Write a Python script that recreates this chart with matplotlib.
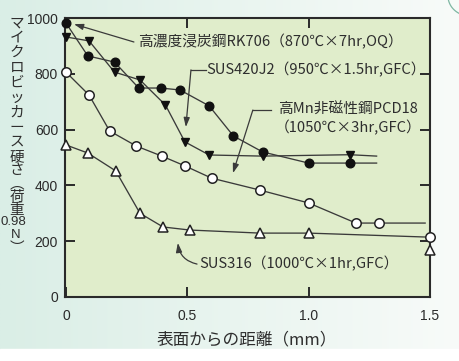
import numpy as np
import matplotlib
matplotlib.use("Agg")
import matplotlib.pyplot as plt

plt.rcParams['font.family'] = ['Noto Sans CJK JP', 'DejaVu Sans']

# ---- data ----
x_rk706 = [0.0, 0.09, 0.20, 0.30, 0.39, 0.47, 0.59, 0.69, 0.81, 1.00, 1.17, 1.28]
y_rk706 = [982, 864, 842, 749, 749, 742, 685, 577, 520, 480, 480, 480]

x_sus420 = [0.0, 0.095, 0.20, 0.305, 0.41, 0.49, 0.59, 0.81, 1.17, 1.28]
y_sus420 = [932, 918, 806, 778, 688, 556, 509, 505, 510, 505]

x_pcd18 = [0.0, 0.095, 0.18, 0.29, 0.395, 0.49, 0.60, 0.80, 1.00, 1.195, 1.29, 1.48]
y_pcd18 = [806, 724, 595, 541, 505, 470, 426, 383, 337, 265, 265, 265]
x_pcd18_end = [1.5]
y_pcd18_end = [215]

x_sus316 = [0.0, 0.09, 0.205, 0.305, 0.40, 0.51, 0.80, 1.00, 1.48]
y_sus316 = [545, 516, 452, 300, 251, 240, 229, 229, 215]
x_sus316_end = [1.5]
y_sus316_end = [168]

x_ticks = [0, 0.5, 1.0, 1.5]
x_ticklabels = ['0', '0.5', '1.0', '1.5']
y_ticks = [0, 200, 400, 600, 800, 1000]
y_ticklabels = ['0', '200', '400', '600', '800', '1000']

label_rk706 = '高濃度浸炭鋼RK706（870℃×7hr,OQ）'
label_sus420 = 'SUS420J2（950℃×1.5hr,GFC）'
label_pcd18_1 = '高Mn非磁性鋼PCD18'
label_pcd18_2 = '（1050℃×3hr,GFC）'
label_sus316 = 'SUS316（1000℃×1hr,GFC）'
xlabel = '表面からの距離（mm）'
ylabel_chars = ['マ', 'イ', 'ク', 'ロ', 'ビ', 'ッ', 'カ', 'ー', 'ス', '硬', 'さ',
                '︵', '荷', '重', '0.98', 'N', '︶']

# ---- figure ----
W, H = 460, 361
fig = plt.figure(figsize=(W / 100, H / 100), dpi=100)

# background gradient
bg = fig.add_axes([0, 0, 1, 1], zorder=-10)
c0 = np.array([218, 238, 230]) / 255
c1 = np.array([248, 251, 249]) / 255
t = np.linspace(0, 1, 200)[None, :, None]
grad = c0 * (1 - t) + c1 * t
grad = np.repeat(grad, 100, axis=0)
bg.imshow(grad, aspect='auto', extent=[0, 1, 0, 1])
bg.axhspan(0, 12 / H, color='white')
bg.set_xlim(0, 1)
bg.set_ylim(0, 1)
bg.axis('off')
# decorative arc top-right
th = np.linspace(np.pi * 1.05, np.pi * 1.45, 30)
bg.plot(470 / W + 22 / W * np.cos(th), 1 + 20 / H * np.sin(th) + 4 / H,
        color='#7fb7a3', lw=0.9)

ax = fig.add_axes([65 / W, 1 - 297 / H, (430 - 65) / W, (297 - 18) / H])
ax.set_facecolor('#e0edcb')

lc = '#3a3a3a'
lw = 0.95
ax.plot(x_rk706, y_rk706, color=lc, lw=lw, marker='o', ms=6.2, clip_on=False,
        mfc='#111111', mec='#111111', markevery=list(range(len(x_rk706) - 1)), zorder=4)
ax.plot(x_sus420, y_sus420, color=lc, lw=lw, marker='v', ms=6.2, clip_on=False,
        mfc='#111111', mec='#111111', markevery=list(range(len(x_sus420) - 1)), zorder=4)
ax.plot(x_pcd18, y_pcd18, color=lc, lw=lw, marker='o', ms=6.8, clip_on=False,
        mfc='white', mec='#222222', mew=1.1, markevery=list(range(len(x_pcd18) - 1)), zorder=4)
ax.plot(x_pcd18_end, y_pcd18_end, ls='none', marker='o', ms=6.8, clip_on=False,
        mfc='white', mec='#222222', mew=1.1, zorder=5)
ax.plot(x_sus316, y_sus316, color=lc, lw=lw, marker='^', ms=7, clip_on=False,
        mfc='white', mec='#222222', mew=1.1, markevery=list(range(len(x_sus316) - 1)), zorder=4)
ax.plot(x_sus316_end, y_sus316_end, ls='none', marker='^', ms=7, clip_on=False,
        mfc='white', mec='#222222', mew=1.1, zorder=5)

ax.set_xlim(-0.004, 1.5)
ax.set_ylim(0, 1000)

tick_font = dict(family=['Liberation Sans', 'DejaVu Sans'], size=10, color='#2a2a2a')
ax.set_xticks(x_ticks)
ax.set_xticklabels(x_ticklabels, fontdict=tick_font)
ax.set_yticks(y_ticks)
ax.set_yticklabels(y_ticklabels, fontdict=tick_font)
ax.tick_params(axis='both', direction='in', length=7, width=1.4, color='#2a2a2a')
ax.tick_params(axis='x', pad=9, top=True)
ax.tick_params(axis='y', pad=5, right=True)
for s in ax.spines.values():
    s.set_linewidth(1.5)
    s.set_color('#2a2a2a')
    s.set_zorder(3)

tc = '#2e2e2e'
fs = 10.6
arrow = dict(arrowstyle='-|>,head_length=0.55,head_width=0.18', color=lc, lw=0.9,
             shrinkA=0, shrinkB=0)

# RK706
ax.text(0.297, 914, label_rk706, fontsize=fs, color=tc, va='center', ha='left')
ax.annotate('', xy=(0.033, 978), xytext=(0.28, 914), arrowprops=arrow)

# SUS420J2
ax.text(0.577, 814, label_sus420, fontsize=fs, color=tc, va='center', ha='left')
ax.plot([0.577, 0.515], [814, 814], color=lc, lw=0.9)
ax.annotate('', xy=(0.494, 609), xytext=(0.515, 814), arrowprops=arrow)

# PCD18
ax.text(1.162, 670, label_pcd18_1, fontsize=fs, color=tc, va='center', ha='center')
ax.text(1.162, 606, label_pcd18_2, fontsize=fs, color=tc, va='center', ha='center')
ax.plot([0.845, 0.770], [670, 670], color=lc, lw=0.9)
ax.annotate('', xy=(0.688, 444), xytext=(0.770, 670), arrowprops=arrow)

# SUS316
ax.text(0.548, 118, label_sus316, fontsize=fs, color=tc, va='center', ha='left')
arrow_c = dict(arrow, connectionstyle='arc3,rad=-0.35')
ax.annotate('', xy=(0.461, 194), xytext=(0.540, 118), arrowprops=arrow_c)

# x label
fig.text(247 / W, 1 - 340 / H, xlabel, fontsize=12, color=tc, ha='center', va='center')

# vertical y label, upright characters
ypos = [23, 38, 53, 68, 83, 98, 113, 128, 142, 157, 170, 184, 197, 210, 222, 235, 248]
for ch, yp in zip(ylabel_chars, ypos):
    if ch == '0.98':
        fig.text(13 / W, 1 - yp / H, ch, fontsize=9.5, family=['Liberation Sans', 'DejaVu Sans'],
                 color=tc, ha='center', va='center')
    elif ch == 'N':
        fig.text(16 / W, 1 - yp / H, ch, fontsize=9.5, family=['Liberation Sans', 'DejaVu Sans'],
                 color=tc, ha='center', va='center')
    else:
        fig.text(17 / W, 1 - yp / H, ch, fontsize=10.5, color=tc, ha='center', va='center')

fig.savefig('out.png', dpi=100)
